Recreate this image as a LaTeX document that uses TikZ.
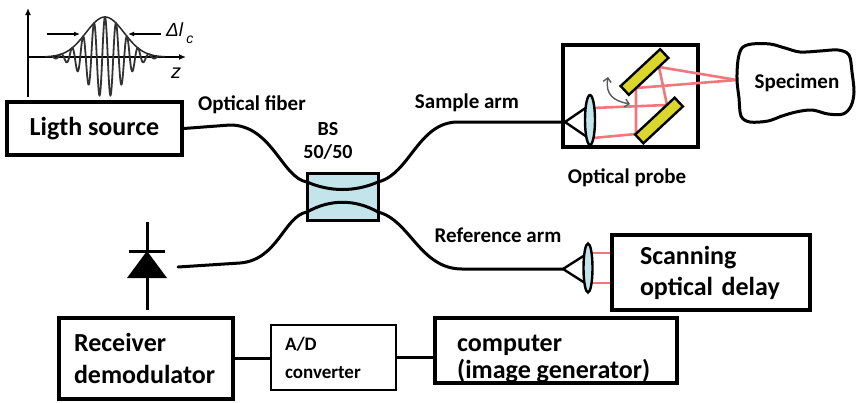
\documentclass[tikz,border=0pt]{standalone}
\usepackage{fontspec}
\setmainfont{Carlito}
\newfontfamily\axisfont{Liberation Sans}
\usetikzlibrary{arrows.meta}

\definecolor{beamred}{RGB}{240,120,125}
\definecolor{glassblue}{RGB}{196,228,236}
\definecolor{mirrorgold}{RGB}{218,214,44}

\tikzset{
  box/.style={draw, line width=3.5pt, fill=white, inner sep=0pt},
  bigtext/.style={font=\fontsize{26}{32}\selectfont\bfseries},
  lbl/.style={font=\fontsize{21}{25}\selectfont\bfseries, inner sep=0pt},
  fiber/.style={line width=3pt, line cap=round},
  beam/.style={draw=beamred, line width=2.6pt},
  axisline/.style={line width=1.8pt, -{Latex[length=7pt,width=6pt]}},
  mirror/.style={draw, line width=2.4pt, fill=mirrorgold, minimum width=54, minimum height=12, inner sep=0pt},
  lensshape/.style={draw, line width=2.4pt, fill=glassblue},
  cone/.style={draw, line width=2.4pt, fill=white, line join=round}
}

\begin{document}
\begin{tikzpicture}[x=1pt,y=-1pt]
\useasboundingbox (0,0) rectangle (857,402);

% ---- coherence-length wave packet ----
\draw[axisline] (28,97) -- (28,8);
\draw[axisline] (28,57) -- (186,57);
\draw[line width=1.5pt, black!85] plot[domain=45:165, samples=120]
  (\x,{57-40*exp(0-((\x-105)/27)^2)});
\draw[line width=1.8pt, black!80] plot[domain=52:158, samples=500]
  (\x,{57-40*exp(0-((\x-105)/27)^2)*cos((\x-105)/11*360)});
\draw[line width=1.3pt, -{Latex[length=6pt,width=5pt]}] (47,34) -- (80,34);
\draw[line width=1.3pt, -{Latex[length=6pt,width=5pt]}] (161,34) -- (128,34);
\node[anchor=west, inner sep=0pt, font=\axisfont\itshape\fontsize{19}{19}\selectfont] (dl) at (166,33)
  {Δl\,\raisebox{-0.35em}{\fontsize{14}{14}\selectfont c}};
\node[inner sep=0pt, font=\axisfont\itshape\fontsize{20}{20}\selectfont] (zl) at (176,73) {z};

% ---- main blocks ----
\node[box, bigtext, minimum width=175, minimum height=53] (ls) at (94.5,128.5) {Ligth source};
\node[box, bigtext, minimum width=174, minimum height=81, text width=144, align=left] (rx) at (146,358.5) {Receiver\\demodulator};
\node[box, line width=2.8pt, minimum width=125, minimum height=65, text width=97, align=left,
      font=\fontsize{19}{28}\selectfont\bfseries] (ad) at (333.5,357.5) {A/D\\converter};
\node[box, minimum width=242, minimum height=65] (cp) at (556,350.5) {};
\node[anchor=west, inner sep=0pt, font=\fontsize{26}{27}\selectfont\bfseries, align=left] (cptxt) at (457,359) {computer\\(image generator)};
\node[box, bigtext, font=\fontsize{26}{31}\selectfont\bfseries, minimum width=198, minimum height=75, text width=142, align=left] (sd) at (711,272.5) {Scanning\\optical delay};
\node[box, minimum width=135, minimum height=102] (pr) at (630.5,96) {};

% ---- 50/50 fiber coupler ----
\node[draw, line width=3pt, fill=glassblue, minimum width=71, minimum height=47, inner sep=0pt] (cpl) at (342.5,196.5) {};
\coordinate (pdin) at (178,267);
\coordinate (sarm) at (565,122);
\coordinate (rarm) at (563,269);

\draw[fiber] (ls.east) -- (230,125)
  .. controls (272,125) and (282,178) .. (307,182)
  .. controls (330,192) and (355,192) .. (378,182)
  .. controls (410,174) and (418,122) .. (458,122) -- (sarm);
\draw[fiber] (pdin) -- (240,263)
  .. controls (278,260) and (284,216) .. (307,212)
  .. controls (330,199) and (355,199) .. (378,212)
  .. controls (410,220) and (420,269) .. (462,269) -- (rarm);

% ---- photodiode ----
\draw[line width=3pt] (147,222) -- (147,310);
\draw[line width=3pt] (129,251) -- (165,251);
\fill (147,251) -- (167,278) -- (127,278) -- cycle;

% ---- electronics links ----
\draw[line width=3pt] (rx.east) -- (rx.east -| ad.west);
\draw[line width=3pt] (ad.east) -- (ad.east -| cp.west);

% ---- optical probe interior ----
\draw[beam] (593,108) -- (667,105) -- (659,67) -- (737,80);
\draw[beam] (593,138) -- (636,134) -- (636,88) -- (737,80);
\node[mirror, rotate=43] (m1) at (644.5,72) {};
\node[mirror, rotate=43] (m2) at (659,120.5) {};
\draw[cone] (sarm) -- (587,107) -- (587,137) -- cycle;
\draw[lensshape] (590,120) ellipse [x radius=5, y radius=25];
\draw[line width=1.4pt, black!65, {Straight Barb[length=4pt]}-{Straight Barb[length=4pt]}]
  (608,77) .. controls (605,95) and (614,101) .. (630,104);

% ---- reference arm optics ----
\draw[beam] (592,253) -- (sd.west |- 0,253);
\draw[beam] (592,283) -- (sd.west |- 0,283);
\draw[cone] (rarm) -- (585,255) -- (585,283) -- cycle;
\draw[lensshape] (588,268) ellipse [x radius=4.5, y radius=24.5];

% ---- specimen ----
\draw[line width=3pt, fill=white] plot[smooth cycle, tension=0.55] coordinates {
  (737,80) (738,60) (742,48) (752,44) (770,44) (785,48) (800,52) (820,51)
  (838,50) (849,55) (852,72) (854,92) (851,106) (843,114) (828,114) (812,110)
  (796,112) (782,116) (768,121) (750,122) (741,116) (739,98)};
\node[lbl] (spec) at (797,83) {Specimen};

% ---- labels ----
\node[lbl] (oflbl) at (252,105) {Optical fiber};
\node[lbl, align=center, font=\fontsize{20}{23}\selectfont\bfseries] (bslbl) at (328,141) {BS\\50/50};
\node[lbl] (salbl) at (467,103) {Sample arm};
\node[lbl] (prlbl) at (627,178) {Optical probe};
\node[lbl] (ralbl) at (498,235) {Reference arm};
\end{tikzpicture}
\end{document}
